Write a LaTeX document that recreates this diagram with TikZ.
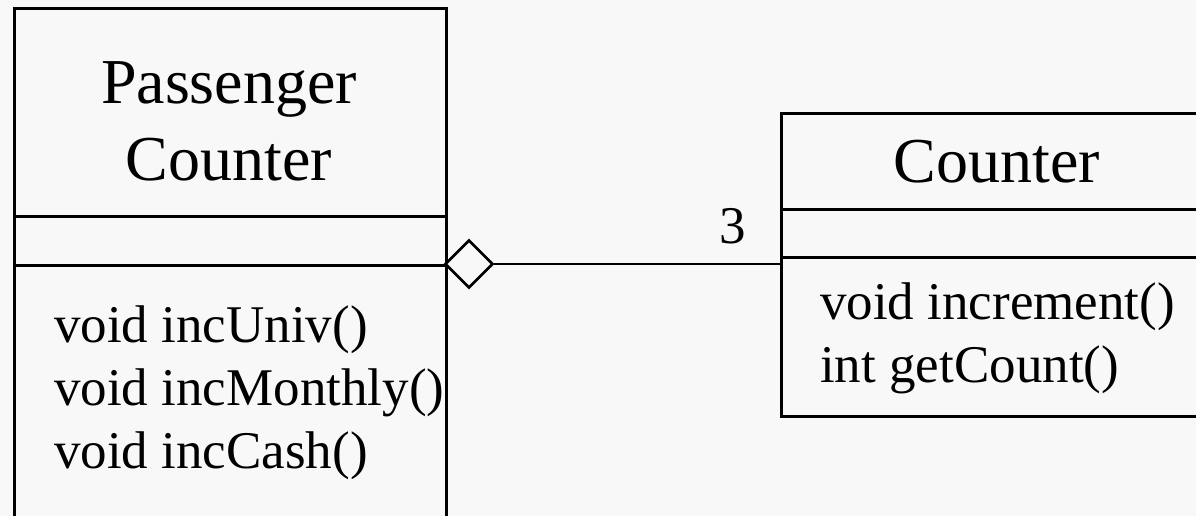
\documentclass[tikz,border=0pt]{standalone}
\usepackage{fontspec}
\setmainfont{Liberation Serif}
\usetikzlibrary{shapes.geometric}
\definecolor{paper}{HTML}{F8F8F8}
\tikzset{
  part/.style={draw, line width=2.6pt, inner sep=0pt, anchor=north west},
  classname/.style={font=\fontsize{64}{77}\selectfont, align=center, inner sep=0pt},
  members/.style={font=\fontsize{53}{63}\selectfont, align=left, inner sep=0pt, anchor=base west},
}
\begin{document}
\begin{tikzpicture}[x=1pt, y=-1pt]
      \clip (0, 0) rectangle (1196, 516);
      \fill [paper] (0, 0) rectangle (1196, 516);
      % PassengerCounter
      \node [part, minimum width=432pt, minimum height=208pt] (pcName) at (13, 7) {};
      \node [part, minimum width=432pt, minimum height=49pt] (pcAttr) at (13, 215) {};
      \node [part, minimum width=432pt, minimum height=336pt] (pcOps) at (13, 264) {};
      \node [classname, anchor=base] (pcTitle) at (229, 180) {Passenger\\Counter};
      \node [members] (pcList) at (54, 468) {void incUniv()\\void incMonthly()\\void incCash()};
      % Counter
      \node [part, minimum width=434pt, minimum height=96pt] (cName) at (780, 112) {};
      \node [part, minimum width=434pt, minimum height=48pt] (cAttr) at (780, 208) {};
      \node [part, minimum width=434pt, minimum height=159pt] (cOps) at (780, 256) {};
      \node [classname, anchor=base] (cTitle) at (997, 182) {Counter};
      \node [members] (cList) at (820, 382) {void increment()\\int getCount()};
      % aggregation
      \node [diamond, draw, line width=2.6pt, fill=paper, inner sep=0pt,
             minimum width=48pt, minimum height=48pt] (agg) at (469, 264) {};
      \coordinate (cEnd) at (agg.east -| cOps.west);
      \draw [line width=2.6pt] (agg.east) -- (cEnd);
      \node [members, anchor=base] (mult) at (733, 243) {3};
\end{tikzpicture}
\end{document}
